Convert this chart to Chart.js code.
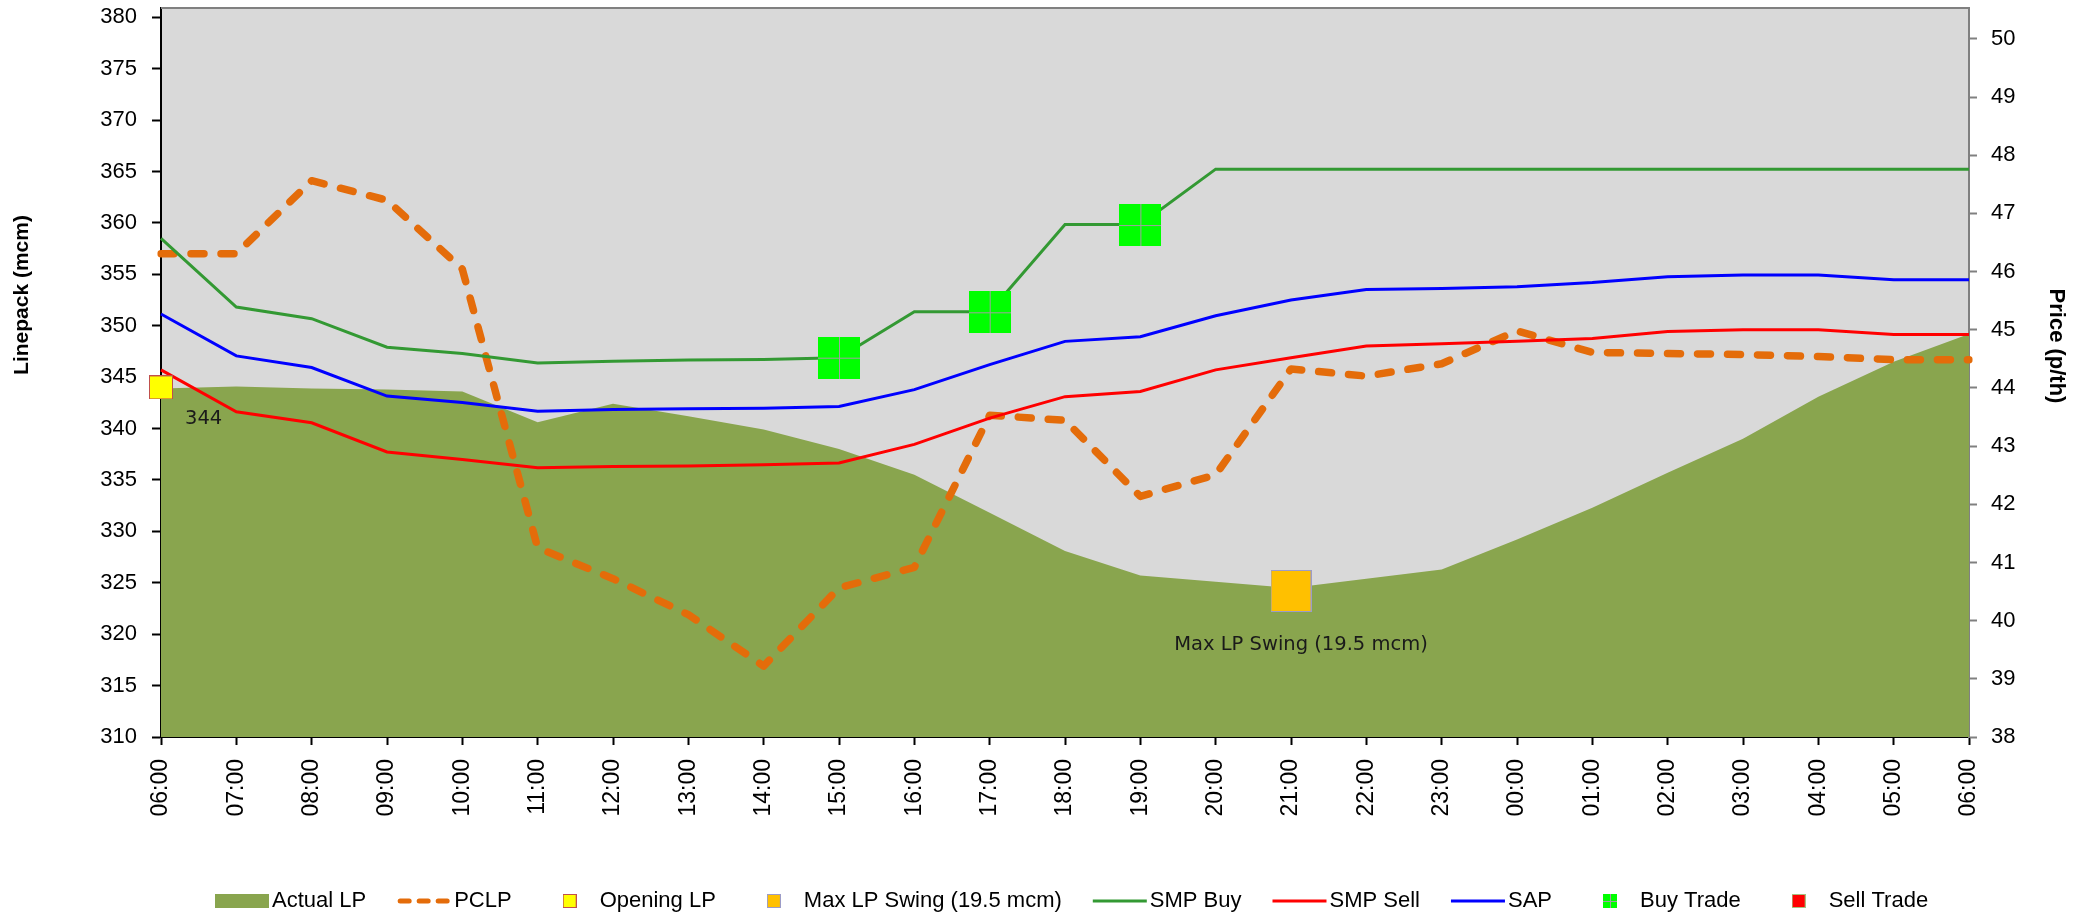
<!DOCTYPE html>
<html>
<head>
<meta charset="utf-8">
<title>Linepack and prices</title>
<script src="https://cdn.jsdelivr.net/npm/chart.js@4.4.1/dist/chart.umd.min.js"></script>
<style>
    html, body { margin: 0; padding: 0; background: #ffffff; }
    #wrap { width: 2087px; height: 916px; position: relative; }
</style>
</head>
<body>
<div id="wrap"><canvas id="lpChart"></canvas></div>
<script>
// Gas day, hour by hour (06:00 to 06:00)
const hours = ['06:00', '07:00', '08:00', '09:00', '10:00', '11:00', '12:00', '13:00', '14:00',
    '15:00', '16:00', '17:00', '18:00', '19:00', '20:00', '21:00', '22:00', '23:00', '00:00',
    '01:00', '02:00', '03:00', '04:00', '05:00', '06:00'];

// Linepack (mcm), left axis
const actualLP = [343.9, 344.1, 343.9, 343.8, 343.6, 340.6, 342.4, 341.2, 339.9, 338.0, 335.5, 331.8,
    328.1, 325.7, 325.1, 324.5, 325.4, 326.3, 329.2, 332.3, 335.7, 339.0, 343.1, 346.5, 349.2];
const pclp = [357.0, 357.0, 364.1, 362.2, 355.5, 328.4, 325.4, 321.9, 316.9, 324.5, 326.5, 341.3,
    340.8, 333.4, 335.5, 345.8, 345.1, 346.3, 349.5, 347.4, 347.3, 347.2, 347.0, 346.7, 346.7];
const openingLP = [344, null, null, null, null, null, null, null, null, null, null, null,
    null, null, null, null, null, null, null, null, null, null, null, null, null];
const maxSwing = [null, null, null, null, null, null, null, null, null, null, null, null,
    null, null, null, 324.2, null, null, null, null, null, null, null, null, null];

// Prices (p/th), right axis
const smpBuy = [46.57, 45.39, 45.19, 44.70, 44.59, 44.43, 44.46, 44.48, 44.49, 44.52, 45.31, 45.31,
    46.81, 46.81, 47.76, 47.76, 47.76, 47.76, 47.76, 47.76, 47.76, 47.76, 47.76, 47.76, 47.76];
const smpSell = [44.31, 43.59, 43.40, 42.90, 42.77, 42.63, 42.65, 42.66, 42.68, 42.71, 43.03, 43.48,
    43.85, 43.94, 44.31, 44.52, 44.72, 44.76, 44.80, 44.85, 44.97, 45.00, 45.00, 44.92, 44.92];
const sap = [45.27, 44.55, 44.35, 43.86, 43.75, 43.60, 43.63, 43.64, 43.65, 43.68, 43.97, 44.40,
    44.80, 44.88, 45.24, 45.51, 45.69, 45.71, 45.74, 45.81, 45.91, 45.94, 45.94, 45.86, 45.86];
const buyTrades = [null, null, null, null, null, null, null, null, null, 44.52, null, 45.30,
    null, 46.80, null, null, null, null, null, null, null, null, null, null, null];
const sellTrades = [null, null, null, null, null, null, null, null, null, null, null, null,
    null, null, null, null, null, null, null, null, null, null, null, null, null];

const linepackTicks = [310, 315, 320, 325, 330, 335, 340, 345, 350, 355, 360, 365, 370, 375, 380];
const priceTicks = [38, 39, 40, 41, 42, 43, 44, 45, 46, 47, 48, 49, 50];

// square markers as small canvases (fill, thin border, optional cross)
function squareMarker(w, h, fill, stroke, cross) {
    const c = document.createElement('canvas');
    c.width = w;
    c.height = h;
    const g = c.getContext('2d');
    g.fillStyle = fill;
    g.fillRect(0, 0, w, h);
    if (cross) {
        g.strokeStyle = '#a0a0a0';
        g.lineWidth = 1;
        g.beginPath();
        g.moveTo(Math.floor(w / 2) + 0.5, 0);
        g.lineTo(Math.floor(w / 2) + 0.5, h);
        g.moveTo(0, Math.floor(h / 2) + 0.5);
        g.lineTo(w, Math.floor(h / 2) + 0.5);
        g.stroke();
    }
    if (stroke) {
        g.strokeStyle = stroke;
        g.lineWidth = 1;
        g.strokeRect(0.5, 0.5, w - 1, h - 1);
    }
    return c;
}

const LEGEND_FONT = '22px "Liberation Sans", Arial, sans-serif';
const NOTE_FONT = '19.5px "DejaVu Sans", Verdana, sans-serif';

// grey plot area, frame on top
const plotBackground = {
    id: 'plotBackground',
    beforeDraw(chart) {
        const { ctx, chartArea: a } = chart;
        ctx.save();
        ctx.fillStyle = '#ffffff';
        ctx.fillRect(0, 0, chart.width, chart.height);
        ctx.fillStyle = '#d9d9d9';
        ctx.fillRect(a.left, a.top, a.right - a.left, a.bottom - a.top);
        ctx.restore();
    },
    afterDraw(chart) {
        const { ctx, chartArea: a } = chart;
        ctx.save();
        ctx.strokeStyle = '#808080';
        ctx.lineWidth = 2;
        ctx.beginPath();
        ctx.moveTo(a.left, a.top);
        ctx.lineTo(a.right + 1, a.top);
        ctx.stroke();
        ctx.restore();
    }
};

// axis titles and marker notes
const chartNotes = {
    id: 'chartNotes',
    afterDraw(chart) {
        const ctx = chart.ctx;
        ctx.save();
        ctx.fillStyle = '#000000';
        ctx.textAlign = 'center';
        ctx.textBaseline = 'middle';

        ctx.font = 'bold 21px "Liberation Sans", Arial, sans-serif';
        ctx.save();
        ctx.translate(22, 295);
        ctx.rotate(-Math.PI / 2);
        ctx.fillText('Linepack (mcm)', 0, 0);
        ctx.restore();

        ctx.font = 'bold 22px "Liberation Sans", Arial, sans-serif';
        ctx.save();
        ctx.translate(2056, 346);
        ctx.rotate(Math.PI / 2);
        ctx.fillText('Price (p/th)', 0, 0);
        ctx.restore();

        ctx.font = NOTE_FONT;
        ctx.fillStyle = '#1a1a1a';
        const openMeta = chart.getDatasetMeta(2);
        const openPt = openMeta.data[0];
        ctx.textAlign = 'left';
        ctx.fillText(String(openingLP[0]), openPt.x + 24, openPt.y + 32);

        const swingIdx = maxSwing.findIndex(v => v !== null);
        const swingPt = chart.getDatasetMeta(3).data[swingIdx];
        ctx.textAlign = 'center';
        ctx.fillText(chart.data.datasets[3].label, swingPt.x + 10, swingPt.y + 54);
        ctx.restore();
    }
};

// legend along the bottom
const bottomLegend = {
    id: 'bottomLegend',
    afterDraw(chart) {
        const ctx = chart.ctx;
        const y = 901;
        const keyW = 54;
        let x = 215;
        ctx.save();
        ctx.font = LEGEND_FONT;
        ctx.textBaseline = 'middle';
        ctx.textAlign = 'left';
        chart.data.datasets.forEach(ds => {
            const k = ds.keyType;
            if (k === 'area') {
                ctx.fillStyle = ds.backgroundColor;
                ctx.fillRect(x, y - 7, keyW, 14);
            } else if (k === 'dash') {
                ctx.save();
                ctx.strokeStyle = ds.borderColor;
                ctx.lineWidth = 5;
                ctx.lineCap = 'round';
                ctx.setLineDash([9, 10]);
                ctx.beginPath();
                ctx.moveTo(x + 3, y);
                ctx.lineTo(x + keyW - 2, y);
                ctx.stroke();
                ctx.restore();
            } else if (k === 'line') {
                ctx.strokeStyle = ds.borderColor;
                ctx.lineWidth = 3;
                ctx.beginPath();
                ctx.moveTo(x, y);
                ctx.lineTo(x + keyW, y);
                ctx.stroke();
            } else if (k === 'marker') {
                ctx.drawImage(ds.keyMarker, x + keyW / 2 - 7, y - 7);
            }
            ctx.fillStyle = '#000000';
            const tx = x + keyW + 3;
            ctx.fillText(ds.label, tx, y);
            x = tx + ctx.measureText(ds.label).width + 31;
        });
        ctx.restore();
    }
};

const ctx = document.getElementById('lpChart').getContext('2d');
const lpChart = new Chart(ctx, {
    type: 'line',
    data: {
        labels: hours,
        datasets: [
            {
                label: 'Actual LP',
                keyType: 'area',
                data: actualLP,
                yAxisID: 'y',
                backgroundColor: '#89a54e',
                borderWidth: 0,
                pointRadius: 0,
                fill: 'start',
                order: 20
            },
            {
                label: 'PCLP',
                keyType: 'dash',
                data: pclp,
                yAxisID: 'y',
                borderColor: '#e46c0a',
                borderWidth: 7.5,
                borderDash: [13, 17],
                borderCapStyle: 'round',
                borderJoinStyle: 'round',
                pointRadius: 0,
                fill: false,
                order: 10
            },
            {
                label: 'Opening LP',
                keyType: 'marker',
                keyMarker: squareMarker(14, 14, '#ffff00', '#c0504d', false),
                data: openingLP,
                yAxisID: 'y',
                showLine: false,
                pointStyle: squareMarker(24, 24, '#ffff00', '#c0504d', false),
                pointRadius: 12,
                clip: false,
                order: 2
            },
            {
                label: 'Max LP Swing (19.5 mcm)',
                keyType: 'marker',
                keyMarker: squareMarker(14, 14, '#ffc000', '#9c9cc8', false),
                data: maxSwing,
                yAxisID: 'y',
                showLine: false,
                pointStyle: squareMarker(41, 42, '#ffc000', '#9c9cc8', false),
                pointRadius: 20,
                clip: false,
                order: 2
            },
            {
                label: 'SMP Buy',
                keyType: 'line',
                data: smpBuy,
                yAxisID: 'y1',
                borderColor: '#339933',
                borderWidth: 3,
                pointRadius: 0,
                fill: false,
                order: 6
            },
            {
                label: 'SMP Sell',
                keyType: 'line',
                data: smpSell,
                yAxisID: 'y1',
                borderColor: '#ff0000',
                borderWidth: 3,
                pointRadius: 0,
                fill: false,
                order: 6
            },
            {
                label: 'SAP',
                keyType: 'line',
                data: sap,
                yAxisID: 'y1',
                borderColor: '#0000ff',
                borderWidth: 3,
                pointRadius: 0,
                fill: false,
                order: 6
            },
            {
                label: 'Buy Trade',
                keyType: 'marker',
                keyMarker: squareMarker(14, 14, '#00ff00', null, true),
                data: buyTrades,
                yAxisID: 'y1',
                showLine: false,
                pointStyle: squareMarker(42, 42, '#00ff00', null, true),
                pointRadius: 20,
                clip: false,
                order: 1
            },
            {
                label: 'Sell Trade',
                keyType: 'marker',
                keyMarker: squareMarker(14, 14, '#ff0000', '#a6c080', false),
                data: sellTrades,
                yAxisID: 'y1',
                showLine: false,
                pointStyle: squareMarker(42, 42, '#ff0000', null, false),
                pointRadius: 20,
                clip: false,
                order: 1
            }
        ]
    },
    options: {
        responsive: true,
        maintainAspectRatio: false,
        animation: false,
        events: [],
        layout: {
            autoPadding: false,
            padding: { top: 8, left: 0, right: 0, bottom: 0 }
        },
        plugins: {
            legend: { display: false },
            tooltip: { enabled: false }
        },
        scales: {
            x: {
                type: 'category',
                offset: false,
                border: { color: '#000000', width: 2 },
                grid: {
                    drawOnChartArea: false,
                    drawTicks: true,
                    tickLength: 8,
                    tickColor: '#000000',
                    tickWidth: 2
                },
                ticks: {
                    color: '#000000',
                    autoSkip: false,
                    minRotation: 90,
                    maxRotation: 90,
                    padding: 14,
                    font: { family: '"Liberation Sans", Arial, sans-serif', size: 23 }
                },
                afterFit(scale) {
                    scale.height = 179;
                    scale.paddingLeft = 0;
                    scale.paddingRight = 0;
                }
            },
            y: {
                type: 'linear',
                position: 'left',
                min: 310,
                max: 380.9,
                border: { color: '#000000', width: 2 },
                grid: {
                    drawOnChartArea: false,
                    drawTicks: true,
                    tickLength: 9,
                    tickColor: '#000000',
                    tickWidth: 2
                },
                ticks: {
                    color: '#000000',
                    padding: 15,
                    font: { family: '"Liberation Sans", Arial, sans-serif', size: 22 }
                },
                afterBuildTicks(scale) {
                    scale.ticks = linepackTicks.map(v => ({ value: v }));
                },
                afterFit(scale) {
                    scale.width = 161;
                    scale.paddingTop = 0;
                    scale.paddingBottom = 0;
                }
            },
            y1: {
                type: 'linear',
                position: 'right',
                min: 38,
                max: 50.53,
                border: { color: '#808080', width: 2 },
                grid: {
                    drawOnChartArea: false,
                    drawTicks: true,
                    tickLength: 8,
                    tickColor: '#808080',
                    tickWidth: 2
                },
                ticks: {
                    color: '#000000',
                    padding: 14,
                    font: { family: '"Liberation Sans", Arial, sans-serif', size: 22 }
                },
                afterBuildTicks(scale) {
                    scale.ticks = priceTicks.map(v => ({ value: v }));
                },
                afterFit(scale) {
                    scale.width = 118;
                    scale.paddingTop = 0;
                    scale.paddingBottom = 0;
                }
            }
        }
    },
    plugins: [plotBackground, chartNotes, bottomLegend]
});
</script>
</body>
</html>
